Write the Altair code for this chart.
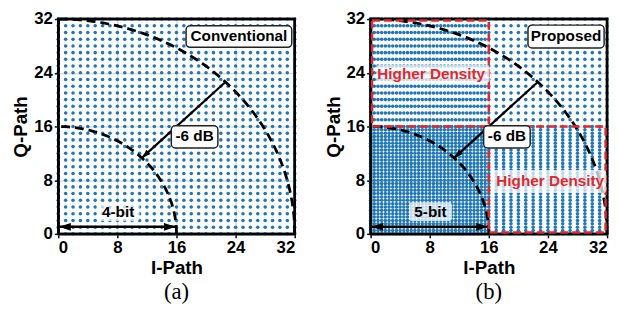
import altair as alt
import numpy as np
import pandas as pd

# ---------------- data ----------------
tick_values = [0, 8, 16, 24, 32]
axis_max = 32
half_max = 16
coarse_step = 1.0
fine_step = 0.5
arc_radii = [16, 32]

panel_titles = ["Conventional", "Proposed"]
captions = ["(a)", "(b)"]
bit_labels = ["4-bit", "5-bit"]
density_label = "Higher Density"
db_label = "-6 dB"


def lattice(i0, i1, di, q0, q1, dq):
    ii = np.arange(i0, i1 + 1e-9, di)
    qq = np.arange(q0, q1 + 1e-9, dq)
    I, Q = np.meshgrid(ii, qq)
    return pd.DataFrame({"I": I.ravel(), "Q": Q.ravel()})


conv_pts = lattice(0, axis_max, coarse_step, 0, axis_max, coarse_step)
prop_pts = pd.concat([
    lattice(0, half_max, fine_step, 0, half_max, fine_step),
    lattice(0, half_max, fine_step, half_max + 1, axis_max, coarse_step),
    lattice(half_max + 1, axis_max, coarse_step, 0, half_max, fine_step),
    lattice(half_max + 1, axis_max, coarse_step, half_max + 1, axis_max, coarse_step),
], ignore_index=True)

ang = np.linspace(0, np.pi / 2, 121)
arc_df = pd.concat([
    pd.DataFrame({"I": r * np.cos(ang), "Q": r * np.sin(ang), "r": r, "k": np.arange(len(ang))})
    for r in arc_radii
], ignore_index=True)

d_out = arc_radii[1] / np.sqrt(2)
d_in = arc_radii[0] / np.sqrt(2)

# ---------------- styling ----------------
FONT = "Liberation Sans"
BLUE = "#1f77b4"
RED = "#e0282e"
HEAD = "M0,0L1,3L-1,3Z"

X = alt.X("I:Q", scale=alt.Scale(domain=[0, axis_max], nice=False),
          axis=alt.Axis(values=tick_values, title="I-Path", grid=True))
Y = alt.Y("Q:Q", scale=alt.Scale(domain=[0, axis_max], nice=False),
          axis=alt.Axis(values=tick_values, title="Q-Path", grid=True))


def boxes(df, **kw):
    return alt.Chart(df).mark_rect(**kw).encode(x=X, x2=alt.X2("I2"), y=Y, y2=alt.Y2("Q2"))


def texts(df, color="black", size=15.5):
    return alt.Chart(df).mark_text(font=FONT, fontWeight="bold", fontSize=size, color=color,
                                   baseline="middle", align="center").encode(
        x=X, y=Y, text="t:N")


def panel(points, idx, proposed):
    layers = []
    layers.append(alt.Chart(points).mark_circle(size=13, color=BLUE, opacity=1).encode(x=X, y=Y))
    layers.append(alt.Chart(arc_df).mark_line(color="black", strokeWidth=2.8, strokeDash=[9, 5]).encode(
        x=X, y=Y, detail="r:N", order="k:Q"))
    # -6 dB arrow
    arr = pd.DataFrame({"I": [d_out, d_in], "Q": [d_out, d_in], "k": [0, 1]})
    layers.append(alt.Chart(arr).mark_line(color="black", strokeWidth=2.2).encode(x=X, y=Y, order="k:Q"))
    layers.append(alt.Chart(pd.DataFrame({"I": [d_in], "Q": [d_in], "a": [227.5]})).mark_point(
        shape=HEAD, filled=True, color="black", size=36, opacity=1).encode(
        x=X, y=Y, angle=alt.Angle("a:Q", scale=None)))
    # bit arrow
    bq = 1.05
    barr = pd.DataFrame({"I": [0.1, half_max - 0.1], "Q": [bq, bq], "k": [0, 1]})
    layers.append(alt.Chart(barr).mark_line(color="black", strokeWidth=2.5).encode(x=X, y=Y, order="k:Q"))
    layers.append(alt.Chart(pd.DataFrame({"I": [0.1, half_max - 0.1], "Q": [bq, bq], "a": [270, 90]})).mark_point(
        shape=HEAD, filled=True, color="black", size=64, opacity=1).encode(
        x=X, y=Y, angle=alt.Angle("a:Q", scale=None)))
    # frame
    fr = pd.DataFrame([dict(I=0, I2=axis_max, Q=0, Q2=axis_max)])
    layers.append(boxes(fr, fillOpacity=0, stroke="black", strokeWidth=2.5))
    if proposed:
        reg = pd.DataFrame({"I": [0.2, half_max], "I2": [half_max, axis_max - 0.2],
                            "Q": [half_max, 0.2], "Q2": [axis_max - 0.2, half_max]})
        layers.append(boxes(reg, fillOpacity=0, stroke=RED, strokeWidth=2.5, strokeDash=[8, 4]))
    # translucent label backgrounds
    bg = [dict(I=5.2, I2=11.0, Q=1.9, Q2=4.7)]
    if proposed:
        bg += [dict(I=0.8, I2=16.1, Q=22.5, Q2=25.2), dict(I=16.5, I2=31.9, Q=6.1, Q2=9.5)]
    layers.append(boxes(pd.DataFrame(bg), fill="white", opacity=0.72, cornerRadius=3))
    # framed boxes
    if proposed:
        tb = dict(I=21.3, I2=31.6, Q=27.7, Q2=31.1)
        tt = dict(I=26.45, Q=29.4, t=panel_titles[idx])
    else:
        tb = dict(I=17.3, I2=31.6, Q=27.8, Q2=31.0)
        tt = dict(I=24.45, Q=29.4, t=panel_titles[idx])
    fb = pd.DataFrame([tb, dict(I=15.3, I2=21.6, Q=12.8, Q2=16.1)])
    layers.append(boxes(fb, fill="white", stroke="#222222", strokeWidth=1.5, cornerRadius=4))
    tx = pd.DataFrame([tt, dict(I=18.45, Q=14.5, t=db_label), dict(I=8.1, Q=3.3, t=bit_labels[idx])])
    layers.append(texts(tx))
    if proposed:
        dx = pd.DataFrame([dict(I=8.2, Q=23.85, t=density_label), dict(I=24.3, Q=7.8, t=density_label)])
        layers.append(texts(dx, color=RED))
    return alt.layer(*layers).properties(
        width=240, height=218,
        title=alt.TitleParams(text=captions[idx], orient="bottom", font="Liberation Serif",
                              fontSize=23, fontWeight="normal", color="black", offset=4,
                              anchor="middle"))


chart = alt.hconcat(panel(conv_pts, 0, False), panel(prop_pts, 1, True), spacing=21).properties(
    padding={"left": 2, "top": -2, "right": -3, "bottom": 0}
).configure_view(stroke="black", strokeWidth=2.5).configure_axis(
    labelFont=FONT, labelFontWeight="bold", labelFontSize=17, labelColor="black", labelPadding=2,
    titleFont=FONT, titleFontWeight="bold", titleFontSize=19, titleColor="black", titlePadding=3,
    domainColor="black", domainWidth=2.5, tickColor="black", tickWidth=1.5, tickSize=4,
    gridColor="#bbbbbb", gridWidth=1, gridOpacity=0.7
)

chart.save("out.html", embed_options={"renderer": "svg", "actions": False})
